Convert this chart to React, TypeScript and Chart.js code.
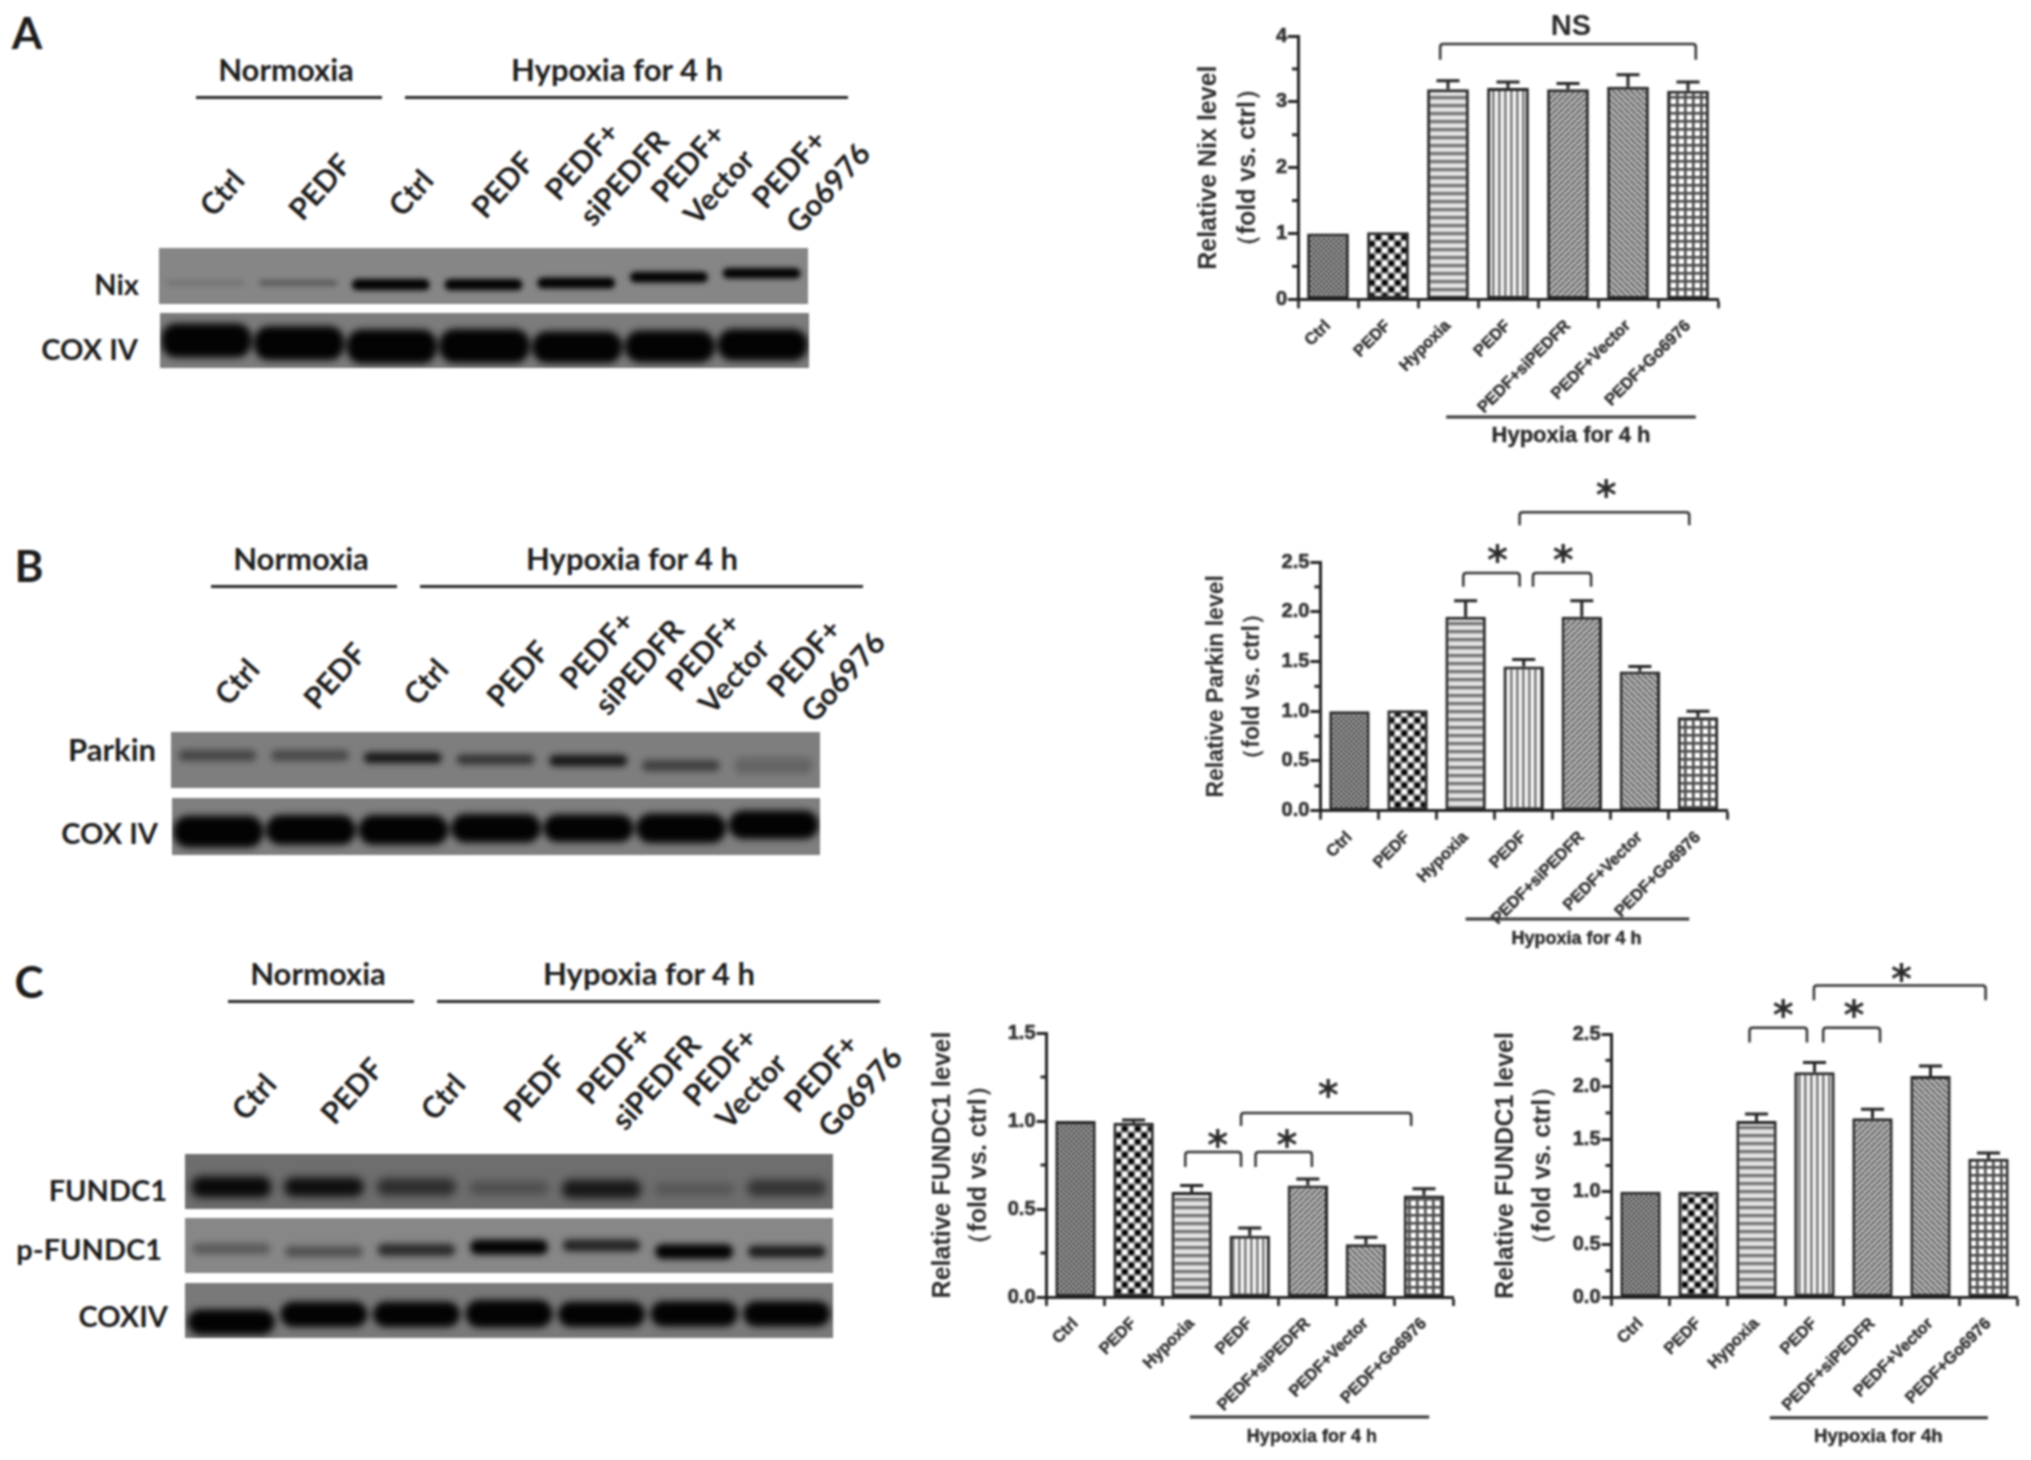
import React, { useEffect, useRef } from "react";
import { Chart, registerables } from "chart.js";

Chart.register(...registerables);

// ---------- data ----------
const categories = ["Ctrl", "PEDF", "Hypoxia", "PEDF", "PEDF+siPEDFR", "PEDF+Vector", "PEDF+Go6976"];

const nixValues = [1.0, 1.02, 3.19, 3.21, 3.19, 3.23, 3.17];
const nixErrorTops = [1.0, 1.02, 3.32, 3.3, 3.28, 3.41, 3.3];
const parkinValues = [1.0, 1.01, 1.95, 1.45, 1.95, 1.4, 0.94];
const parkinErrorTops = [1.0, 1.01, 2.11, 1.52, 2.11, 1.45, 1.0];
const fundc1Values = [1.0, 0.99, 0.597, 0.348, 0.633, 0.3, 0.576];
const fundc1ErrorTops = [1.0, 1.005, 0.634, 0.392, 0.67, 0.34, 0.615];
const pFundc1Values = [1.0, 1.0, 1.674, 2.136, 1.7, 2.1, 1.313];
const pFundc1ErrorTops = [1.0, 1.0, 1.74, 2.228, 1.785, 2.196, 1.37];

const laneTexts = ["Ctrl", "PEDF", "Ctrl", "PEDF", "PEDF+", "siPEDFR", "PEDF+", "Vector", "PEDF+", "Go6976"];

// western blot bands, one value per lane: centre height, thickness, darkness
const nixCentre = [37.5, 37.5, 34.5, 34.5, 37.5, 48, 55];
const nixThick = [9, 10, 20, 20, 20, 19, 19];
const nixDark = [0.14, 0.34, 1, 1, 1, 1, 1];
const coxACentre = [50, 45, 39, 40, 38, 39, 42];
const coxAThick = [62, 62, 62, 62, 58, 58, 58];
const parkinCentre = [58, 58, 54, 51, 49, 40, 40];
const parkinThick = [20, 20, 19, 18, 20, 20, 30];
const parkinDark = [0.45, 0.42, 0.85, 0.6, 0.85, 0.5, 0.2];
const coxBCentre = [41, 44, 44, 47, 47, 47, 53];
const coxBThick = [56, 52, 52, 50, 48, 52, 50];
const fundcCentre = [40, 40, 40, 38, 36, 36, 38];
const fundcThick = [38, 35, 32, 24, 34, 20, 30];
const fundcDark = [0.95, 0.9, 0.6, 0.3, 0.8, 0.25, 0.55];
const pFundcCentre = [44, 39, 42, 47, 50, 39, 39];
const pFundcThick = [20, 20, 22, 27, 22, 27, 22];
const pFundcDark = [0.33, 0.4, 0.68, 1, 0.75, 1, 0.8];
const coxCCentre = [29, 43, 43, 44, 43, 44, 44];
const coxCThick = [46, 46, 46, 50, 46, 46, 46];
const solidDark = [1, 1, 1, 1, 1, 1, 1];

// ---------- patterns ----------
const INK = "#242424";
function tile(w: number, h: number, draw: (c: CanvasRenderingContext2D) => void) {
  const cv = document.createElement("canvas");
  cv.width = w;
  cv.height = h;
  const c = cv.getContext("2d")!;
  draw(c);
  return document.createElement("canvas").getContext("2d")!.createPattern(cv, "repeat")!;
}
function diagonal(p: number, dir: number) {
  return tile(p, p, (c) => {
    c.fillStyle = "#bdbdbd";
    c.fillRect(0, 0, p, p);
    c.strokeStyle = "#666";
    c.lineWidth = p * 0.36;
    for (let i = -1; i <= 1; i++) {
      c.beginPath();
      if (dir > 0) {
        c.moveTo(i * p, p);
        c.lineTo(i * p + p, 0);
      } else {
        c.moveTo(i * p, 0);
        c.lineTo(i * p + p, p);
      }
      c.stroke();
    }
  });
}
function makePatterns() {
  return [
    tile(5, 5, (c) => {
      c.fillStyle = "#a6a6a6";
      c.fillRect(0, 0, 5, 5);
      c.fillStyle = "#4a4a4a";
      c.fillRect(0, 0, 2.5, 2.5);
      c.fillRect(2.5, 2.5, 2.5, 2.5);
    }),
    tile(13, 13, (c) => {
      c.fillStyle = "#8c8c8c";
      c.fillRect(0, 0, 13, 13);
      const dot = (x: number, y: number, col: string, r: number) => {
        c.fillStyle = col;
        c.beginPath();
        c.arc(x, y, r, 0, Math.PI * 2);
        c.fill();
      };
      dot(3.25, 3.25, "#000", 2.8);
      dot(9.75, 9.75, "#000", 2.8);
      dot(9.75, 3.25, "#fff", 2.8);
      dot(3.25, 9.75, "#fff", 2.8);
    }),
    tile(4, 8, (c) => {
      c.fillStyle = "#e2e2e2";
      c.fillRect(0, 0, 4, 8);
      c.fillStyle = "#747474";
      c.fillRect(0, 0, 4, 3.2);
    }),
    tile(6, 4, (c) => {
      c.fillStyle = "#fafafa";
      c.fillRect(0, 0, 6, 4);
      c.fillStyle = "#777";
      c.fillRect(0, 0, 2.6, 4);
    }),
    diagonal(6, 1),
    diagonal(6, -1),
    tile(8, 8, (c) => {
      c.fillStyle = "#fff";
      c.fillRect(0, 0, 8, 8);
      c.fillStyle = "#4a4a4a";
      c.fillRect(0, 0, 8, 2.6);
      c.fillRect(0, 0, 2.6, 8);
    }),
  ];
}

// ---------- bar chart ----------
type Bracket = { from: number; to: number; top: number; drop: number };
type BarChartProps = {
  canvas: [number, number, number, number];
  area: { left: number; top: number; right: number; bottom: number };
  values: number[];
  errors: number[];
  max: number;
  step: number;
  decimals: number;
  minor: number[];
  titleLines: string[];
  titleSize: number;
  titleLine: number;
  titlePad: number;
  brackets: Bracket[];
  marks: { pos: number; value: number; text: string }[];
  under: { from: number; to: number; dy: number; textPos: number; textDy: number; text: string; size: number };
};

function BarChart(p: BarChartProps) {
  const ref = useRef<HTMLCanvasElement>(null);
  useEffect(() => {
    const [, , cw, ch] = p.canvas;
    const patterns = makePatterns();
    const overlay = {
      id: "overlay",
      afterDraw(chart: any) {
        const { ctx, scales } = chart;
        const x = scales.x;
        const y = scales.y;
        const spacing = x.getPixelForValue(1) - x.getPixelForValue(0);
        const px = (v: number) => x.getPixelForValue(0) + v * spacing;
        ctx.save();
        // error bars
        ctx.strokeStyle = INK;
        ctx.lineWidth = 3;
        p.errors.forEach((top, i) => {
          const value = p.values[i];
          if (top <= value) return;
          const cx = x.getPixelForValue(i);
          ctx.beginPath();
          ctx.moveTo(cx, y.getPixelForValue(value));
          ctx.lineTo(cx, y.getPixelForValue(top));
          ctx.moveTo(cx - 11.5, y.getPixelForValue(top));
          ctx.lineTo(cx + 11.5, y.getPixelForValue(top));
          ctx.stroke();
        });
        // minor y ticks
        p.minor.forEach((v) => {
          const yy = y.getPixelForValue(v);
          ctx.beginPath();
          ctx.moveTo(y.right, yy);
          ctx.lineTo(y.right - 6, yy);
          ctx.stroke();
        });
        // brackets
        ctx.lineWidth = 2.5;
        ctx.strokeStyle = "#333";
        p.brackets.forEach((b) => {
          const l = px(b.from);
          const r = px(b.to);
          const t = y.getPixelForValue(b.top);
          const d = y.getPixelForValue(b.drop);
          ctx.beginPath();
          ctx.moveTo(l, d);
          ctx.lineTo(l, t + 3);
          ctx.quadraticCurveTo(l, t, l + 3, t);
          ctx.lineTo(r - 3, t);
          ctx.quadraticCurveTo(r, t, r, t + 3);
          ctx.lineTo(r, d);
          ctx.stroke();
        });
        // significance marks
        ctx.fillStyle = "#2a2a2a";
        ctx.textAlign = "center";
        ctx.textBaseline = "alphabetic";
        p.marks.forEach((m) => {
          const cy = y.getPixelForValue(m.value);
          if (m.text === "*") {
            ctx.font = "bold 40px 'DejaVu Sans'";
            ctx.fillText("*", px(m.pos), cy + 21);
          } else {
            ctx.font = "bold 29px 'Liberation Sans'";
            ctx.fillText(m.text, px(m.pos), cy + 10);
          }
        });
        // group line below the axis
        const yb = y.getPixelForValue(0);
        ctx.lineWidth = 3;
        ctx.beginPath();
        ctx.moveTo(px(p.under.from), yb + p.under.dy);
        ctx.lineTo(px(p.under.to), yb + p.under.dy);
        ctx.stroke();
        ctx.textBaseline = "middle";
        ctx.font = `bold ${p.under.size}px 'Liberation Sans'`;
        ctx.lineWidth = 0.4;
        ctx.fillText(p.under.text, px(p.under.textPos), yb + p.under.textDy);
        ctx.strokeText(p.under.text, px(p.under.textPos), yb + p.under.textDy);
        ctx.restore();
      },
    };
    const zeroPad = (s: any) => {
      s.paddingLeft = s.paddingRight = s.paddingTop = s.paddingBottom = 0;
    };
    const chart = new Chart(ref.current!, {
      type: "bar",
      data: {
        labels: categories,
        datasets: [
          {
            data: p.values,
            backgroundColor: patterns as any,
            borderColor: INK,
            borderWidth: 3,
            borderSkipped: false,
            categoryPercentage: 1,
            barPercentage: 0.695,
          },
        ],
      },
      options: {
        responsive: false,
        animation: false,
        devicePixelRatio: 1,
        layout: { padding: { left: 0, top: p.area.top, right: cw - p.area.right, bottom: 0 } },
        plugins: { legend: { display: false }, tooltip: { enabled: false }, title: { display: false } },
        scales: {
          x: {
            grid: { drawOnChartArea: false, drawTicks: true, tickLength: 9, tickWidth: 3, tickColor: "#333" },
            border: { display: true, width: 3, color: INK },
            ticks: {
              autoSkip: false,
              minRotation: 45,
              maxRotation: 45,
              padding: 8,
              color: "#333",
              textStrokeColor: "#333",
              textStrokeWidth: 0.5,
              font: { family: "'Liberation Sans'", weight: "bold", size: 16.5 },
            },
            afterFit: (s: any) => {
              s.height = ch - p.area.bottom;
              zeroPad(s);
            },
          },
          y: {
            min: 0,
            max: p.max,
            grid: { drawOnChartArea: false, drawTicks: true, tickLength: 10, tickWidth: 3, tickColor: INK },
            border: { display: true, width: 3, color: INK },
            ticks: {
              stepSize: p.step,
              padding: 1,
              color: "#333",
              textStrokeColor: "#333",
              textStrokeWidth: 0.6,
              font: { family: "'Liberation Sans'", weight: "bold", size: 20 },
              callback: (v: any) => Number(v).toFixed(p.decimals),
            },
            title: {
              display: true,
              text: p.titleLines,
              color: "#2e2e2e",
              padding: { top: p.titlePad, bottom: 0 },
              font: {
                family: "'Liberation Sans'",
                weight: "bold",
                size: p.titleSize,
                lineHeight: p.titleLine / p.titleSize,
              },
            },
            afterFit: (s: any) => {
              s.width = p.area.left;
              zeroPad(s);
            },
          },
        },
      },
      plugins: [overlay],
    } as any);
    return () => chart.destroy();
  }, []);
  const [left, top, w, h] = p.canvas;
  return <canvas ref={ref} width={w} height={h} style={{ position: "absolute", left, top, width: w, height: h }} />;
}

// ---------- western blot strip, drawn as floating bars ----------
type BlotProps = {
  box: [number, number, number, number];
  shade: string;
  centre: number[];
  thick: number[];
  dark: number[];
  blur: number;
  radius: number;
  lane: number;
};
function Blot(p: BlotProps) {
  const ref = useRef<HTMLCanvasElement>(null);
  useEffect(() => {
    const chart = new Chart(ref.current!, {
      type: "bar",
      data: {
        labels: p.centre.map((_, i) => String(i)),
        datasets: [
          {
            data: p.centre.map((c, i) => [c - p.thick[i] / 2, c + p.thick[i] / 2]) as any,
            backgroundColor: p.dark.map((d) => `rgba(3,3,3,${d})`),
            borderWidth: 0,
            borderRadius: p.radius,
            borderSkipped: false,
            categoryPercentage: 1,
            barPercentage: p.lane,
          },
        ],
      },
      options: {
        responsive: false,
        animation: false,
        devicePixelRatio: 1,
        plugins: { legend: { display: false }, tooltip: { enabled: false } },
        scales: { x: { display: false }, y: { display: false, min: 0, max: 100 } },
      },
    } as any);
    return () => chart.destroy();
  }, []);
  const [left, top, w, h] = p.box;
  return (
    <div style={{ position: "absolute", left, top, width: w, height: h, background: p.shade, overflow: "hidden" }}>
      <canvas ref={ref} width={w} height={h} style={{ display: "block", width: w, height: h, filter: `blur(${p.blur}px)` }} />
    </div>
  );
}

// ---------- text helpers ----------
const LATO = "Lato, 'Noto Sans', sans-serif";
function T(props: { x: number; y: number; size: number; text: string; rot?: number; right?: boolean }) {
  const { x, y, size, text, rot, right } = props;
  return (
    <div
      style={{
        position: "absolute",
        left: x,
        top: y,
        fontFamily: LATO,
        fontWeight: 700,
        fontSize: size,
        lineHeight: 1,
        color: "#1c1c1c",
        whiteSpace: "nowrap",
        transform: `translate(${right ? "-100%" : "-50%"},-50%)${rot ? ` rotate(${rot}deg)` : ""}`,
      }}
    >
      {text}
    </div>
  );
}
const laneX = [221, 319, 410, 502, 581, 623, 687, 718, 788, 827];
const laneY = [192, 186, 192, 184, 160, 177, 162, 186, 168, 187];
function Header(props: { dx: number; dy: number; letter: string; letterX: number; letterY: number }) {
  const { dx, dy } = props;
  const line = (l: number, r: number) => (
    <div style={{ position: "absolute", left: l + dx, top: 95.5 + dy, width: r - l, height: 3, background: "#2a2a2a" }} />
  );
  return (
    <>
      <T x={props.letterX} y={props.letterY} size={44} text={props.letter} />
      <T x={286 + dx} y={69 + dy} size={31} text="Normoxia" />
      <T x={617 + dx} y={69 + dy} size={31} text="Hypoxia for 4 h" />
      {line(196, 382)}
      {line(405, 848)}
      {laneTexts.map((t, i) => (
        <T key={i} x={laneX[i] + dx} y={laneY[i] + dy} size={30} text={t} rot={-48} />
      ))}
    </>
  );
}

export default function App() {
  useEffect(() => {
    document.body.style.margin = "0";
    document.body.style.background = "#fff";
  }, []);
  return (
    <div
      style={{
        position: "absolute",
        left: 0,
        top: 0,
        width: 2031,
        height: 1460,
        overflow: "hidden",
        background: "#fff",
        filter: "blur(0.8px)",
      }}
    >
      <Header dx={0} dy={0} letter="A" letterX={27} letterY={32} />
      <Blot box={[159, 248, 649, 56]} shade="#868686" centre={nixCentre} thick={nixThick} dark={nixDark} blur={2.5} radius={6} lane={0.84} />
      <Blot box={[160, 313, 649, 55]} shade="#7c7c7c" centre={coxACentre} thick={coxAThick} dark={solidDark} blur={3.5} radius={15} lane={0.97} />
      <T x={139} y={283} size={29} text="Nix" right />
      <T x={138} y={348} size={29} text="COX IV" right />

      <Header dx={15} dy={489} letter="B" letterX={29} letterY={565} />
      <Blot box={[171, 732, 649, 56]} shade="#7e7e7e" centre={parkinCentre} thick={parkinThick} dark={parkinDark} blur={3} radius={7} lane={0.84} />
      <Blot box={[172, 798, 648, 57]} shade="#7f7f7f" centre={coxBCentre} thick={coxBThick} dark={solidDark} blur={3.5} radius={15} lane={0.97} />
      <T x={156} y={749} size={31} text="Parkin" right />
      <T x={158} y={832} size={29} text="COX IV" right />

      <Header dx={32} dy={904} letter="C" letterX={29} letterY={981} />
      <Blot box={[185, 1154, 648, 55]} shade="#6e6e6e" centre={fundcCentre} thick={fundcThick} dark={fundcDark} blur={4} radius={9} lane={0.86} />
      <Blot box={[185, 1218, 648, 55]} shade="#878787" centre={pFundcCentre} thick={pFundcThick} dark={pFundcDark} blur={3} radius={7} lane={0.84} />
      <Blot box={[185, 1283, 648, 55]} shade="#797979" centre={coxCCentre} thick={coxCThick} dark={solidDark} blur={3.5} radius={15} lane={0.94} />
      <T x={167} y={1189} size={29} text="FUNDC1" right />
      <T x={162} y={1248} size={29} text="p-FUNDC1" right />
      <T x={168} y={1315} size={29} text="COXIV" right />

      <BarChart
        canvas={[1180, 0, 560, 460]}
        area={{ left: 118, top: 36, right: 538, bottom: 299.3 }}
        values={nixValues}
        errors={nixErrorTops}
        max={4}
        step={1}
        decimals={0}
        minor={[0.5, 1.5, 2.5, 3.5]}
        titleLines={["Relative Nix level", "（fold vs. ctrl）"]}
        titleSize={25}
        titleLine={39}
        titlePad={9.5}
        brackets={[{ from: 1.87, to: 6.13, top: 3.88, drop: 3.64 }]}
        marks={[{ pos: 4.05, value: 4.17, text: "NS" }]}
        under={{ from: 1.97, to: 6.13, dy: 117.7, textPos: 4.05, textDy: 136.7, text: "Hypoxia for 4 h", size: 22 }}
      />
      <BarChart
        canvas={[1180, 470, 560, 490]}
        area={{ left: 140.4, top: 92, right: 547, bottom: 340.7 }}
        values={parkinValues}
        errors={parkinErrorTops}
        max={2.5}
        step={0.5}
        decimals={1}
        minor={[0.25, 0.75, 1.25, 1.75, 2.25]}
        titleLines={["Relative Parkin level", "（fold vs. ctrl）"]}
        titleSize={23}
        titleLine={36}
        titlePad={19}
        brackets={[
          { from: 1.96, to: 2.93, top: 2.39, drop: 2.25 },
          { from: 3.16, to: 4.16, top: 2.39, drop: 2.25 },
          { from: 2.93, to: 5.85, top: 3.0, drop: 2.87 },
        ]}
        marks={[
          { pos: 2.55, value: 2.59, text: "*" },
          { pos: 3.68, value: 2.59, text: "*" },
          { pos: 4.42, value: 3.24, text: "*" },
        ]}
        under={{ from: 2.0, to: 5.85, dy: 108.3, textPos: 3.91, textDy: 128, text: "Hypoxia for 4 h", size: 18 }}
      />
      <BarChart
        canvas={[920, 950, 560, 510]}
        area={{ left: 126.5, top: 83, right: 533, bottom: 347 }}
        values={fundc1Values}
        errors={fundc1ErrorTops}
        max={1.5}
        step={0.5}
        decimals={1}
        minor={[0.25, 0.75, 1.25]}
        titleLines={["Relative FUNDC1 level", "（fold vs. ctrl）"]}
        titleSize={25}
        titleLine={36}
        titlePad={5}
        brackets={[
          { from: 1.89, to: 2.85, top: 0.824, drop: 0.739 },
          { from: 3.1, to: 4.07, top: 0.824, drop: 0.739 },
          { from: 2.85, to: 5.78, top: 1.045, drop: 0.972 },
        ]}
        marks={[
          { pos: 2.45, value: 0.903, text: "*" },
          { pos: 3.64, value: 0.903, text: "*" },
          { pos: 4.35, value: 1.19, text: "*" },
        ]}
        under={{ from: 1.97, to: 6.09, dy: 120, textPos: 4.07, textDy: 140, text: "Hypoxia for 4 h", size: 18 }}
      />
      <BarChart
        canvas={[1480, 950, 551, 510]}
        area={{ left: 131.5, top: 84, right: 537.5, bottom: 347 }}
        values={pFundc1Values}
        errors={pFundc1ErrorTops}
        max={2.5}
        step={0.5}
        decimals={1}
        minor={[0.25, 0.75, 1.25, 1.75, 2.25]}
        titleLines={["Relative FUNDC1 level", "（fold vs. ctrl）"]}
        titleSize={25}
        titleLine={37}
        titlePad={7.5}
        brackets={[
          { from: 1.88, to: 2.87, top: 2.56, drop: 2.42 },
          { from: 3.15, to: 4.13, top: 2.56, drop: 2.42 },
          { from: 2.99, to: 5.95, top: 2.96, drop: 2.82 },
        ]}
        marks={[
          { pos: 2.46, value: 2.75, text: "*" },
          { pos: 3.68, value: 2.75, text: "*" },
          { pos: 4.5, value: 3.09, text: "*" },
        ]}
        under={{ from: 2.23, to: 5.99, dy: 120.7, textPos: 4.1, textDy: 140, text: "Hypoxia for 4h", size: 18.5 }}
      />
    </div>
  );
}
